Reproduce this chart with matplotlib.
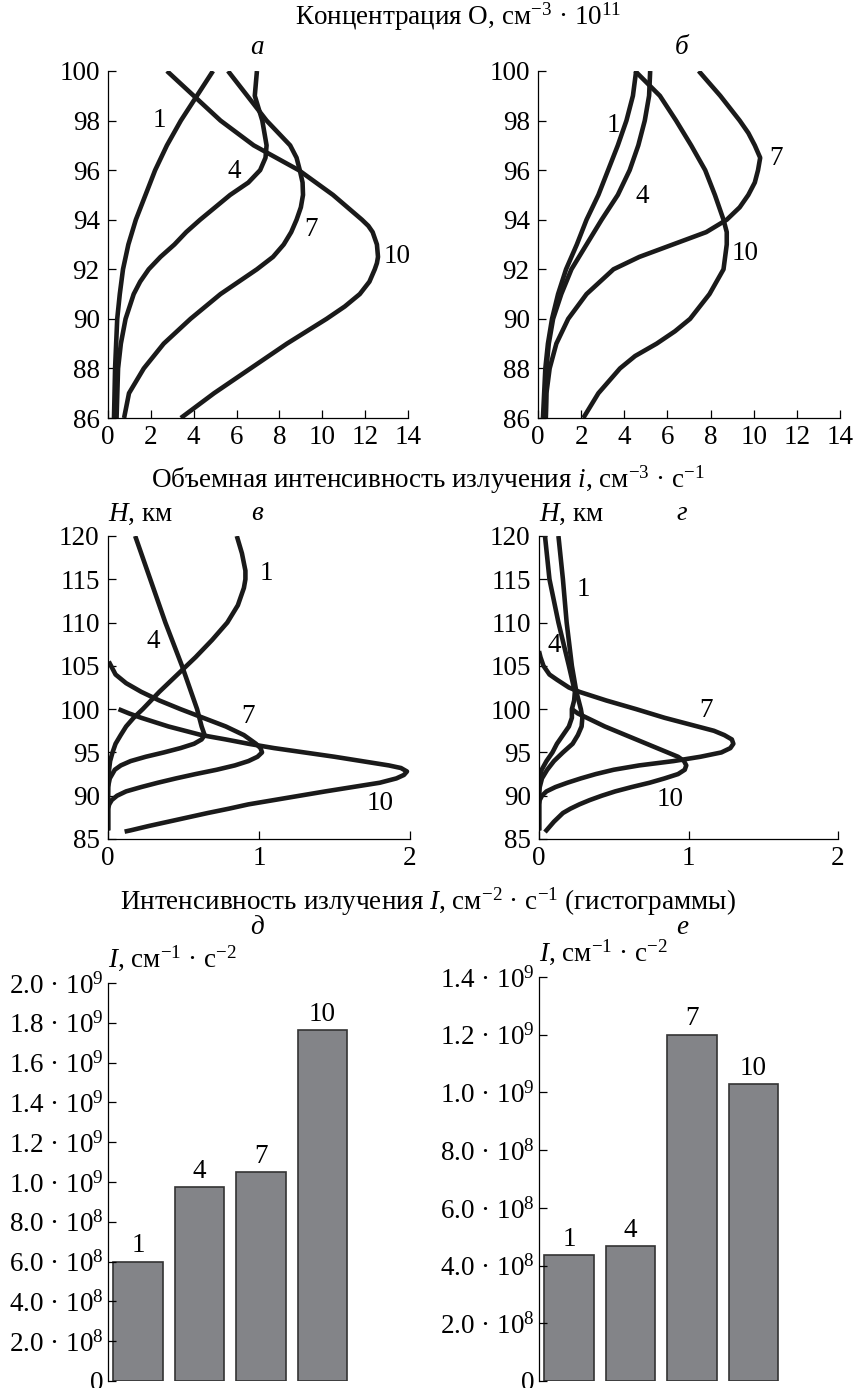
import matplotlib
matplotlib.use('Agg')
import matplotlib.pyplot as plt

plt.rcParams['font.family'] = ['Liberation Serif', 'DejaVu Serif']
plt.rcParams['mathtext.fontset'] = 'custom'
plt.rcParams['mathtext.rm'] = 'Liberation Serif'
plt.rcParams['mathtext.it'] = 'Liberation Serif:italic'
plt.rcParams['mathtext.bf'] = 'Liberation Serif:bold'

FS = 19.5

# ---- data ----
# panel а: O concentration, 1e11 cm^-3, vs altitude (km)
a1_h = [100, 99, 98, 97, 96, 95, 94, 93, 92, 91, 90, 88, 86]
a1_x = [4.9, 4.15, 3.4, 2.75, 2.2, 1.75, 1.3, 0.95, 0.7, 0.55, 0.43, 0.33, 0.28]
a4_h = [100, 99, 98, 97, 96.5, 96, 95.5, 95, 94.5, 94, 93.5, 93, 92.5, 92, 91.5, 91, 90, 89, 88, 86]
a4_x = [6.95, 6.85, 7.2, 7.4, 7.35, 7.1, 6.55, 5.7, 5.0, 4.3, 3.65, 3.1, 2.45, 1.9, 1.5, 1.2, 0.82, 0.6,
        0.47, 0.4]
a7_h = [100, 99, 98, 97, 96.5, 96, 95.5, 95, 94.5, 94, 93.5, 93, 92.5, 92, 91.5, 91, 90, 89, 88, 87, 86]
a7_x = [5.6, 6.5, 7.4, 8.5, 8.8, 8.95, 9.08, 9.1, 9.0, 8.8, 8.55, 8.2, 7.7, 6.95, 6.1, 5.25, 3.85, 2.6,
        1.67, 0.98, 0.75]
a10_h = [100, 99, 98, 97, 96, 95, 94, 93.75, 93.5, 93, 92.5, 92.25, 92, 91.5, 91, 90.5, 90, 89, 88, 87, 86]
a10_x = [2.75, 4.0, 5.25, 6.8, 8.9, 10.5, 11.85, 12.15, 12.35, 12.55, 12.6, 12.55, 12.45, 12.2, 11.75,
         11.05, 10.2, 8.35, 6.65, 4.95, 3.4]

# panel б
b1_h = [100, 99, 98, 97, 96, 95, 94, 93, 92, 91, 90, 89, 88, 86]
b1_x = [4.55, 4.4, 4.1, 3.7, 3.25, 2.8, 2.25, 1.8, 1.3, 0.93, 0.65, 0.46, 0.34, 0.23]
b4_h = [100, 99, 98, 97, 96, 95, 94, 93, 92, 91, 90, 89, 88, 86]
b4_x = [5.2, 5.15, 4.95, 4.65, 4.25, 3.7, 2.95, 2.25, 1.55, 1.08, 0.7, 0.5, 0.39, 0.36]
b7_h = [100, 99.5, 99, 98, 97.5, 97, 96.5, 96, 95.5, 95, 94.5, 94, 93.5, 93, 92.5, 92, 91, 90, 89, 88,
        87, 86]
b7_x = [7.45, 7.95, 8.45, 9.35, 9.75, 10.05, 10.3, 10.2, 10.05, 9.75, 9.35, 8.75, 7.8, 6.25, 4.7, 3.5,
        2.25, 1.4, 0.85, 0.54, 0.39, 0.36]
b10_h = [100, 99, 98, 97, 96, 95, 94, 93.5, 93, 92, 91, 90, 89.5, 89, 88.5, 88, 87.5, 87, 86]
b10_x = [4.5, 5.65, 6.4, 7.1, 7.75, 8.2, 8.6, 8.75, 8.75, 8.6, 7.95, 7.05, 6.35, 5.5, 4.5, 3.8, 3.3,
         2.8, 2.1]

# panel в: volume emission rate
c1_h = [120, 118, 116, 115, 114, 112, 110, 108, 106, 105, 104, 102, 100, 99, 98, 97, 96, 95, 94, 93,
        92, 90, 86]
c1_x = [0.853, 0.887, 0.91, 0.91, 0.9, 0.86, 0.79, 0.69, 0.58, 0.52, 0.46, 0.34, 0.23, 0.17, 0.12, 0.084,
        0.05, 0.03, 0.014, 0.007, 0.002, 0.0, 0.0]
c4_h = [120, 115, 110, 105, 100, 98, 97, 96.5, 96, 95.5, 95, 94.5, 94, 93.5, 93, 92, 91, 86]
c4_x = [0.18, 0.28, 0.38, 0.49, 0.59, 0.62, 0.64, 0.62, 0.57, 0.48, 0.37, 0.25, 0.15, 0.085, 0.045,
        0.012, 0.0, 0.0]
c7_h = [105.5, 104, 103, 102, 101, 100, 99, 98, 97, 96, 95.5, 95, 94.5, 94, 93.5, 93, 92.5, 92, 91.5,
        91, 90.5, 90, 89.5, 89, 88.5, 86]
c7_x = [0.005, 0.05, 0.12, 0.22, 0.34, 0.48, 0.63, 0.78, 0.9, 0.98, 1.01, 1.02, 0.99, 0.93, 0.84, 0.72,
        0.58, 0.45, 0.33, 0.22, 0.12, 0.06, 0.025, 0.008, 0.0, 0.0]
c10_h = [100, 99.5, 99, 98, 97, 96.5, 96, 95.5, 95, 94.5, 94, 93.5, 93.2, 92.8, 92.4, 92, 91.5, 91,
         90.5, 90, 89.5, 89, 88.5, 88, 87.5, 87, 86.5, 86, 85.85]
c10_x = [0.07, 0.14, 0.22, 0.40, 0.62, 0.78, 0.93, 1.1, 1.3, 1.5, 1.68, 1.86, 1.94, 1.98, 1.96, 1.91,
         1.8, 1.62, 1.44, 1.27, 1.10, 0.93, 0.8, 0.66, 0.53, 0.4, 0.27, 0.15, 0.11]

# panel г
d1_h = [120, 115, 110, 105, 102, 100, 99, 98, 97, 96, 95, 94, 93, 92, 91, 90, 86]
d1_x = [0.13, 0.16, 0.185, 0.22, 0.25, 0.28, 0.29, 0.285, 0.26, 0.225, 0.16, 0.1, 0.055, 0.02, 0.005,
        0.0, 0.0]
d4_h = [120, 115, 110, 105, 102, 101, 100, 99, 98, 97, 96, 95, 94, 93, 92, 91, 86]
d4_x = [0.04, 0.07, 0.13, 0.2, 0.24, 0.235, 0.22, 0.22, 0.2, 0.16, 0.12, 0.09, 0.05, 0.018, 0.005,
        0.0, 0.0]
d7_h = [106.7, 106, 105, 104, 103.4, 102.5, 102, 101, 100, 99, 98, 97.5, 97, 96.5, 96, 95.5, 95, 94.5,
        94, 93.5, 93, 92.5, 92, 91.5, 91, 90.5, 90, 89.5, 89, 86]
d7_x = [0.0, 0.01, 0.03, 0.07, 0.12, 0.2, 0.27, 0.45, 0.65, 0.84, 1.06, 1.17, 1.24, 1.29, 1.30, 1.28,
        1.22, 1.08, 0.9, 0.67, 0.5, 0.38, 0.28, 0.19, 0.11, 0.05, 0.02, 0.005, 0.0, 0.0]
d10_h = [100, 99.5, 99, 98, 97, 96, 95, 94.5, 94, 93.5, 93, 92.5, 92, 91.5, 91, 90.5, 90, 89.5, 89,
         88.5, 88, 87, 86.5, 86, 85.8]
d10_x = [0.22, 0.26, 0.32, 0.44, 0.58, 0.72, 0.86, 0.93, 0.97, 0.985, 0.975, 0.93, 0.84, 0.74, 0.62,
         0.51, 0.42, 0.34, 0.27, 0.21, 0.16, 0.1, 0.075, 0.05, 0.04]

# histograms
bar_labels = ['1', '4', '7', '10']
bars_left = [6.0e8, 9.75e8, 1.05e9, 1.765e9]
bars_right = [4.35e8, 4.68e8, 1.2e9, 1.03e9]

W, H = 855, 1388
fig = plt.figure(figsize=(W / 100, H / 100), dpi=100)


def ax_px(left, top, right, bottom):
    return fig.add_axes([left / W, 1 - bottom / H, (right - left) / W, (bottom - top) / H])


def style(ax):
    for s in ['top', 'right']:
        ax.spines[s].set_visible(False)
    for s in ['left', 'bottom']:
        ax.spines[s].set_linewidth(0.9)
    ax.tick_params(direction='in', length=6, width=0.9, labelsize=FS)
    ax.tick_params(axis='x', pad=5)
    ax.tick_params(axis='y', pad=6)


lw = 3.3
ink = '#1a1a1a'


def profile_panel(ax, curves, labels, xlim, ylim, xticks, yticks):
    style(ax)
    for h, x in curves:
        ax.plot(x, h, color=ink, lw=lw, solid_capstyle='butt', solid_joinstyle='round')
    for txt, (lx, ly) in labels:
        ax.text(lx, ly, txt, fontsize=FS, ha='center', va='center')
    ax.set_xlim(*xlim)
    ax.set_ylim(*ylim)
    ax.set_xticks(xticks)
    ax.set_yticks(yticks)


ax_a = ax_px(108, 71, 408, 418)
profile_panel(ax_a, [(a1_h, a1_x), (a4_h, a4_x), (a7_h, a7_x), (a10_h, a10_x)],
              [('1', (2.4, 98.0)), ('4', (5.9, 95.95)), ('7', (9.45, 93.6)), ('10', (13.5, 92.5))],
              (0, 14), (86, 100), range(0, 15, 2), range(86, 101, 2))

ax_b = ax_px(538, 71, 840, 418)
profile_panel(ax_b, [(b1_h, b1_x), (b4_h, b4_x), (b7_h, b7_x), (b10_h, b10_x)],
              [('1', (3.5, 97.8)), ('4', (4.85, 94.95)), ('7', (11.05, 96.45)), ('10', (9.6, 92.65))],
              (0, 14), (86, 100), range(0, 15, 2), range(86, 101, 2))

ax_c = ax_px(108, 536, 410, 839)
profile_panel(ax_c, [(c1_h, c1_x), (c4_h, c4_x), (c7_h, c7_x), (c10_h, c10_x)],
              [('1', (1.05, 115.7)), ('4', (0.3, 107.8)), ('7', (0.93, 99.1)), ('10', (1.8, 89.1))],
              (0, 2), (85, 120), [0, 1, 2], range(85, 121, 5))

ax_d = ax_px(539, 536, 838, 839)
profile_panel(ax_d, [(d1_h, d1_x), (d4_h, d4_x), (d7_h, d7_x), (d10_h, d10_x)],
              [('1', (0.3, 113.85)), ('4', (0.1, 107.4)), ('7', (1.12, 99.8)), ('10', (0.875, 89.55))],
              (0, 2), (85, 120), [0, 1, 2], range(85, 121, 5))

for ax in (ax_c, ax_d):
    ax.text(0.0, 1.03, '$H$, км', transform=ax.transAxes, fontsize=FS, ha='left', va='bottom')


def sci(v):
    if v == 0:
        return '0'
    e = 9 if v >= 1e9 - 1 else 8
    return '%.1f · 10$^{%d}$' % (v / 10 ** e, e)


def bar_panel(ax, values, ymax):
    style(ax)
    ax.spines['bottom'].set_visible(False)
    xs = range(len(values))
    ax.bar(xs, values, width=0.81, color='#838488', edgecolor='#333333', linewidth=1.2)
    for x, v, t in zip(xs, values, bar_labels):
        ax.text(x, v + ymax * 0.008, t, fontsize=FS, ha='center', va='bottom')
    ax.set_xlim(-0.49, 3.61)
    ax.set_ylim(0, ymax)
    ax.set_xticks([])
    ticks = [i * 2e8 for i in range(int(round(ymax / 2e8)) + 1)]
    ax.set_yticks(ticks)
    ax.set_yticklabels([sci(t) for t in ticks])
    ax.tick_params(axis='y', pad=3)
    ax.text(0.0, 1.025, '$I$, см$^{-1}$ · с$^{-2}$', transform=ax.transAxes, fontsize=FS,
            ha='left', va='bottom')


ax_e = ax_px(108, 983, 360, 1381)
bar_panel(ax_e, bars_left, 2.0e9)
ax_f = ax_px(539, 977, 791, 1381)
bar_panel(ax_f, bars_right, 1.4e9)

# headings and panel letters
fig.text(458 / W, 1 - 17 / H, 'Концентрация O, см$^{-3}$ · 10$^{11}$', fontsize=FS, ha='center', va='center')
fig.text(428 / W, 1 - 480 / H, 'Объемная интенсивность излучения $i$, см$^{-3}$ · с$^{-1}$', fontsize=FS,
         ha='center', va='center')
fig.text(428 / W, 1 - 902 / H, 'Интенсивность излучения $I$, см$^{-2}$ · с$^{-1}$ (гистограммы)', fontsize=FS,
         ha='center', va='center')

for letter, x, y in [('а', 257, 48), ('б', 682, 48), ('в', 257, 513), ('г', 682, 513),
                     ('д', 257, 928), ('е', 682, 928)]:
    fig.text(x / W, 1 - y / H, letter, fontsize=FS, style='italic', ha='center', va='center')

fig.savefig('out.png', dpi=100)
